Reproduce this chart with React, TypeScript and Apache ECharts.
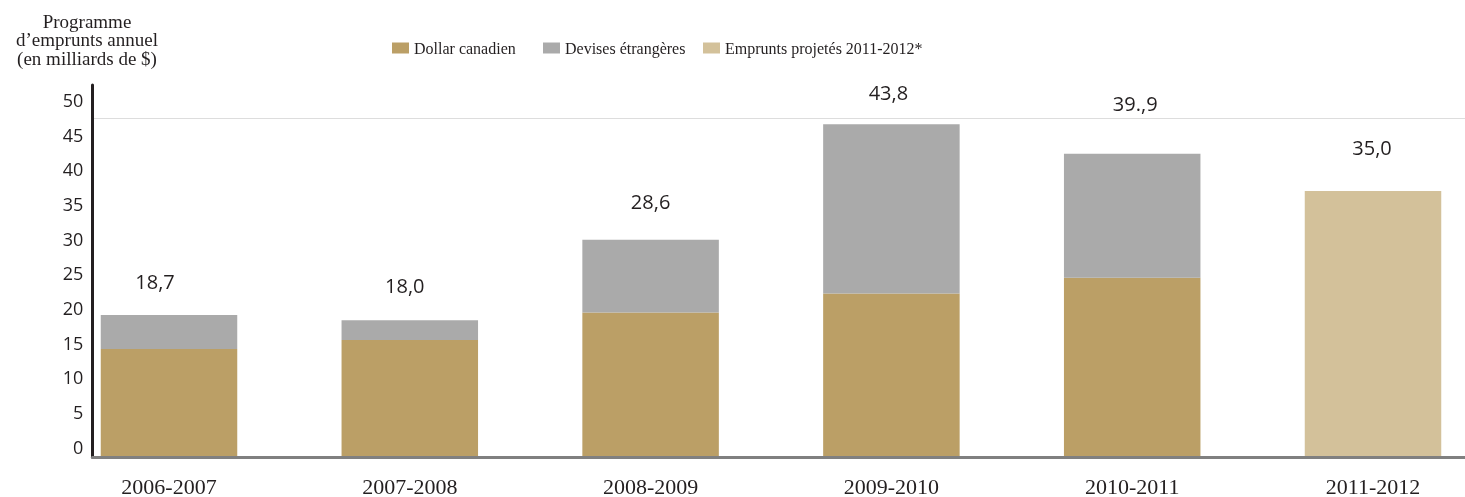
import React, { useEffect, useRef } from "react";
import * as echarts from "echarts";

const categories = ["2006-2007", "2007-2008", "2008-2009", "2009-2010", "2010-2011", "2011-2012"];
const dollarCanadien = [14.2, 15.4, 19.0, 21.5, 23.6, null];
const devisesEtrangeres = [4.5, 2.6, 9.6, 22.3, 16.3, null];
const empruntsProjetes = [null, null, null, null, null, 35.0];
const totalLabels = ["18,7", "18,0", "28,6", "43,8", "39.,9", "35,0"];
const yTickValues = [0, 5, 10, 15, 20, 25, 30, 35, 40, 45, 50];
const gridLineValue = 44.57;

// label styling (distance above bar, horizontal offset)
const labelDistance = [23, 25, 28, 22, 40, 34];
const labelDx = [-14, -5, 0, -3, 3, -1];

const C_CAD = "#bb9f66";
const C_FOR = "#aaaaaa";
const C_PROJ = "#d3c19a";
const TXT = "#231f20";

export default function App() {
  const ref = useRef<HTMLDivElement>(null);
  useEffect(() => {
    if (!ref.current) return;
    const chart = echarts.init(ref.current, undefined, { renderer: "svg" });
    const labelBase = {
      show: true,
      position: "top",
      fontFamily: "Open Sans",
      fontSize: 20,
      lineHeight: 20,
      color: TXT,
      formatter: (p: any) => totalLabels[p.dataIndex],
    };
    const mk = (arr: (number | null)[], withLabel: boolean) =>
      arr.map((v, i) => ({
        value: v === null ? "-" : v,
        label: withLabel ? { distance: labelDistance[i], offset: [labelDx[i], 0] } : undefined,
      }));
    const legendBase = {
      top: 40,
      padding: 0,
      icon: "rect",
      itemWidth: 17,
      itemHeight: 11,
      selectedMode: false,
      textStyle: { fontFamily: "Liberation Serif", fontSize: 16, color: TXT },
    };
    chart.setOption({
      animation: false,
      graphic: [
        {
          type: "text",
          x: 87,
          y: 12,
          style: {
            text: "Programme\nd’emprunts annuel\n(en milliards de $)",
            fontFamily: "Liberation Serif",
            fontSize: 19,
            lineHeight: 18.5,
            fill: TXT,
            textAlign: "center",
            textVerticalAlign: "top",
          },
        },
      ],
      legend: [
        { ...legendBase, left: 392, data: ["Dollar canadien"] },
        { ...legendBase, left: 543, data: ["Devises étrangères"] },
        { ...legendBase, left: 703, data: ["Emprunts projetés 2011-2012*"] },
      ],
      grid: [
        { left: 48.6, width: 1444.8, top: 85, bottom: 40, containLabel: false, outerBoundsMode: "none" },
        { left: 92.3, width: 1372.7, top: 85, bottom: 40, containLabel: false, outerBoundsMode: "none" },
      ],
      xAxis: [
        {
          type: "category",
          gridIndex: 0,
          data: categories,
          axisLine: { show: false },
          axisTick: { show: false },
          splitLine: { show: false },
          axisLabel: {
            fontFamily: "Liberation Serif",
            fontSize: 22,
            lineHeight: 20,
            color: TXT,
            margin: 19,
          },
        },
        {
          type: "value",
          gridIndex: 1,
          min: 0,
          max: 1,
          z: 5,
          axisLine: { show: true, onZero: false, lineStyle: { color: "#808080", width: 3 } },
          axisTick: { show: false },
          axisLabel: { show: false },
          splitLine: { show: false },
        },
      ],
      yAxis: [
        {
          type: "value",
          gridIndex: 0,
          min: 0,
          max: 48.95,
          axisLine: { show: false },
          axisTick: { show: false },
          axisLabel: { show: false },
          splitLine: { show: false },
        },
        {
          type: "value",
          gridIndex: 1,
          min: 0,
          max: 48.95,
          z: 5,
          axisLine: { show: true, onZero: false, lineStyle: { color: TXT, width: 3 } },
          axisTick: { show: false },
          axisLabel: { show: false },
          splitLine: { show: false },
        },
        {
          type: "value",
          gridIndex: 1,
          position: "left",
          min: -1.485,
          max: 52.16,
          axisLine: { show: false, onZero: false },
          axisTick: { show: false },
          splitLine: { show: false },
          axisLabel: {
            customValues: yTickValues,
            fontFamily: "Open Sans",
            fontSize: 18,
            color: TXT,
            margin: 9,
          },
        },
      ],
      series: [
        {
          name: "gridline",
          type: "line",
          xAxisIndex: 1,
          yAxisIndex: 1,
          data: [],
          silent: true,
          markLine: {
            silent: true,
            symbol: "none",
            label: { show: false },
            lineStyle: { color: "#dddddd", width: 1, type: "solid" },
            data: [{ yAxis: gridLineValue }],
          },
        },
        {
          name: "Dollar canadien",
          type: "bar",
          stack: "total",
          barWidth: 136.5,
          itemStyle: { color: C_CAD },
          data: mk(dollarCanadien, false),
        },
        {
          name: "Devises étrangères",
          type: "bar",
          stack: "total",
          barWidth: 136.5,
          itemStyle: { color: C_FOR },
          label: labelBase,
          data: mk(devisesEtrangeres, true),
        },
        {
          name: "Emprunts projetés 2011-2012*",
          type: "bar",
          stack: "total",
          barWidth: 136.5,
          itemStyle: { color: C_PROJ },
          label: labelBase,
          data: mk(empruntsProjetes, true),
        },
      ],
    });
    return () => chart.dispose();
  }, []);
  return (
    <div style={{ position: "fixed", left: 0, top: 0, width: 1465, height: 497, overflow: "hidden" }}>
      <div ref={ref} style={{ position: "absolute", left: 0, top: 0, width: 1500, height: 497 }} />
    </div>
  );
}
